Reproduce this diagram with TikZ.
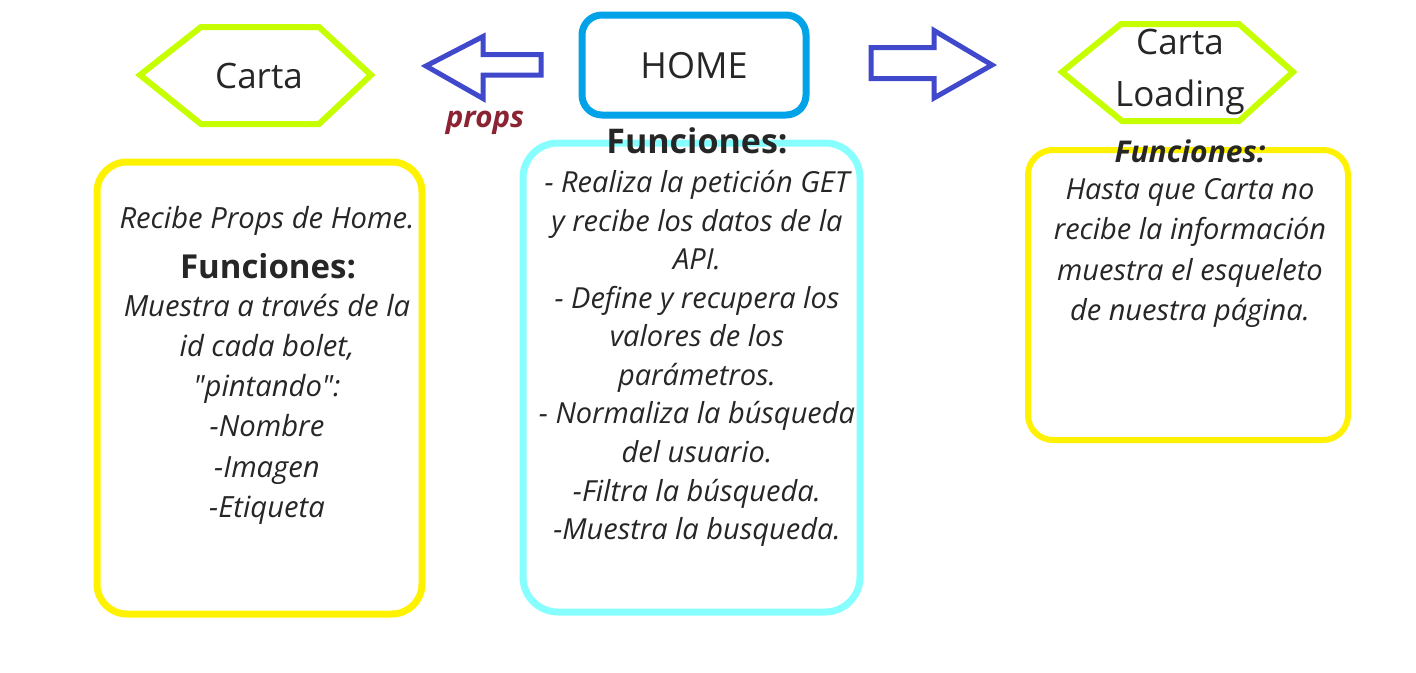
\documentclass[tikz,border=0pt]{standalone}
\usepackage{fontspec}
\setmainfont{Open Sans}
\definecolor{hexlime}{RGB}{198,255,0}
\definecolor{arrblue}{RGB}{64,72,204}
\definecolor{homeblue}{RGB}{0,162,232}
\definecolor{boxyellow}{RGB}{255,242,0}
\definecolor{boxcyan}{RGB}{136,255,255}
\definecolor{propsred}{RGB}{139,35,50}
\definecolor{txtgray}{RGB}{38,38,38}
\tikzset{
  hexline/.style={draw=hexlime, line width=6pt, line join=miter},
  blockarrow/.style={draw=arrblue, line width=5pt, line join=miter},
  cardbox/.style={draw, line width=7pt, inner sep=0pt, fill=none},
  title/.style={text=txtgray, inner sep=0pt, font={\fontsize{36}{40}\selectfont}},
  body/.style={text=txtgray, inner sep=0pt, align=center},
  head/.style={text=txtgray, inner sep=0pt, font={\fontsize{33}{36}\selectfont\bfseries}}
}
\begin{document}
\begin{tikzpicture}[x=1pt,y=-1pt]
\useasboundingbox (0,0) rectangle (1416,672);
\fill[white] (0,0) rectangle (1416,672);

% boxes
\node[cardbox, draw=boxyellow, rounded corners=30pt, minimum width=325pt, minimum height=452pt] (leftbox) at (259.5,388) {};
\node[cardbox, draw=boxcyan, rounded corners=35pt, minimum width=337pt, minimum height=469pt] (midbox) at (691.5,377.5) {};
\node[cardbox, draw=boxyellow, line width=6pt, rounded corners=25pt, minimum width=320pt, minimum height=290pt] (rightbox) at (1188,295) {};
\node[cardbox, draw=homeblue, rounded corners=20pt, minimum width=224pt, minimum height=100pt] (home) at (694,65) {};
\node[title] (hometxt) at (694,66) {HOME};

% hexagons
\draw[hexline] (140,75) -- (201,27) -- (319,27) -- (371,75) -- (319,124) -- (201,124) -- cycle;
\node[title, font={\fontsize{35}{40}\selectfont}] (carta) at (259,76) {Carta};
\draw[hexline] (1062,72) -- (1121,24) -- (1239,24) -- (1293,72) -- (1239,121) -- (1122,121) -- cycle;
\node[title, align=center, font={\fontsize{35}{52}\selectfont}] (cartaload) at (1180,72) {Carta\\Loading};

% block arrows
\draw[blockarrow] (426,66) -- (483,36.5) -- (483,54.5) -- (541,54.5) -- (541,75) -- (483,75) -- (483,98.5) -- cycle;
\draw[blockarrow] (871,47.5) -- (934,47.5) -- (934,30.5) -- (992,65) -- (934,98) -- (934,78.5) -- (871,78.5) -- cycle;
\node[text=propsred, inner sep=0pt, font={\fontsize{29.5}{32}\selectfont\bfseries\itshape}] (props) at (485,123) {props};

% left card text
\node[body, font={\fontsize{29.2}{40}\selectfont\itshape}] (lrecibe) at (267,221) {Recibe Props de Home.};
\node[head] (lfunc) at (268,266) {Funciones:};
\node[body, font={\fontsize{29.2}{40.2}\selectfont\itshape}] (ltext) at (267,409) {Muestra a través de la\\id cada bolet,\\\textquotedbl pintando\textquotedbl :\\-Nombre\\-Imagen\\-Etiqueta};

% middle card text
\node[head, font={\fontsize{34}{36}\selectfont\bfseries}] (mfunc) at (697,141) {Funciones:};
\node[body, font={\fontsize{29}{38.55}\selectfont\itshape}] (mtext) at (697,358.5) {- Realiza la petición GET\\y recibe los datos de la\\API.\\- Define y recupera los\\valores de los\\parámetros.\\- Normaliza la búsqueda\\del usuario.\\-Filtra la búsqueda.\\-Muestra la busqueda.};

% right card text
\node[head, font={\fontsize{30}{34}\selectfont\bfseries\itshape}] (rfunc) at (1190,151) {Funciones:};
\node[body, font={\fontsize{29}{40.3}\selectfont\itshape}] (rtext) at (1190,253) {Hasta que Carta no\\recibe la información\\muestra el esqueleto\\de nuestra página.};
\end{tikzpicture}
\end{document}
